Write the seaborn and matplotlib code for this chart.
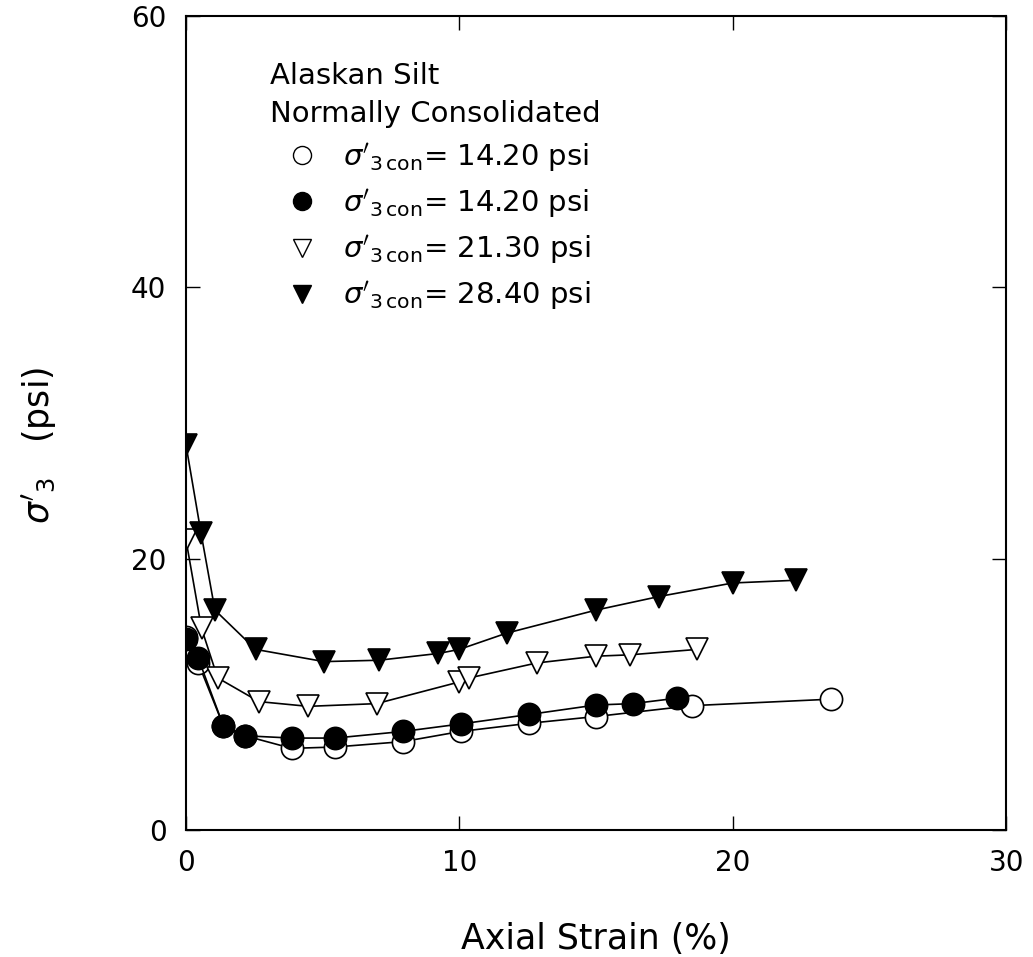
"""
Alaskan Silt (normally consolidated) — sigma3' vs axial strain.
Zapis do out.png.
"""

import matplotlib
matplotlib.use('Agg')
import matplotlib.pyplot as plt
from matplotlib.lines import Line2D
import seaborn as sns

# dane
strain_open_circ = [0.0, 0.45, 1.37, 2.16, 3.87, 5.45, 7.95, 10.05, 12.55, 15.0, 18.5, 23.6]
sig3_open_circ = [14.2, 12.3, 7.66, 6.93, 6.0, 6.1, 6.5, 7.25, 7.85, 8.35, 9.15, 9.63]

strain_fill_circ = [0.0, 0.45, 1.37, 2.16, 3.87, 5.45, 7.95, 10.05, 12.55, 15.0, 16.34, 17.95]
sig3_fill_circ = [14.1, 12.65, 7.66, 6.93, 6.76, 6.76, 7.25, 7.8, 8.5, 9.2, 9.3, 9.7]

strain_open_tri = [0.0, 0.57, 1.16, 2.67, 4.47, 6.97, 10.0, 10.37, 12.83, 15.0, 16.24, 18.7]
sig3_open_tri = [21.4, 14.85, 11.2, 9.45, 9.1, 9.3, 10.9, 11.2, 12.3, 12.8, 12.9, 13.3]

strain_fill_tri = [0.0, 0.55, 1.06, 2.55, 5.05, 7.05, 9.23, 10.0, 11.73, 15.0, 17.3, 20.0, 22.3]
sig3_fill_tri = [28.4, 21.9, 16.2, 13.3, 12.4, 12.5, 13.0, 13.3, 14.5, 16.2, 17.2, 18.2, 18.4]

legend_labels = [
    r"$\sigma'_{3\,\mathrm{con}}$= 14.20 psi",
    r"$\sigma'_{3\,\mathrm{con}}$= 14.20 psi",
    r"$\sigma'_{3\,\mathrm{con}}$= 21.30 psi",
    r"$\sigma'_{3\,\mathrm{con}}$= 28.40 psi",
]

sns.set_theme(style='ticks')
plt.rcParams['font.family'] = ['DejaVu Sans']
plt.rcParams['mathtext.fontset'] = 'dejavusans'
for key in ['text.color', 'axes.labelcolor', 'xtick.color', 'ytick.color']:
    plt.rcParams[key] = 'black'

fig = plt.figure(figsize=(10.33, 9.57), dpi=100)
ax = fig.add_axes([0.180, 0.133, 0.794, 0.850])

series = [
    (strain_open_circ, sig3_open_circ, 'o', 'white'),
    (strain_fill_circ, sig3_fill_circ, 'o', 'black'),
    (strain_open_tri, sig3_open_tri, 'v', 'white'),
    (strain_fill_tri, sig3_fill_tri, 'v', 'black'),
]

for x, y, mk, fc in series:
    sns.lineplot(x=x, y=y, ax=ax, color='black', linewidth=1.2, sort=False,
                 marker=mk, markersize=16, markerfacecolor=fc,
                 markeredgecolor='black', markeredgewidth=1.2)

ax.set_xlim(0, 30)
ax.set_ylim(0, 60)
ax.set_xticks([0, 10, 20, 30])
ax.set_yticks([0, 20, 40, 60])
ax.tick_params(direction='in', length=10, width=1.0, labelsize=20, pad=14,
               top=True, right=True)
for sp in ax.spines.values():
    sp.set_visible(True)
    sp.set_linewidth(1.5)
    sp.set_color('black')

ax.set_xlabel('Axial Strain (%)', fontsize=25, labelpad=32)
ax.set_ylabel(r"$\sigma'_3$   (psi)", fontsize=25)
ax.yaxis.set_label_coords(-0.155, 0.473)

# legenda — tylko markery
handles = [
    Line2D([], [], linestyle='none', marker='o', markersize=13,
           markerfacecolor='white', markeredgecolor='black'),
    Line2D([], [], linestyle='none', marker='o', markersize=13,
           markerfacecolor='black', markeredgecolor='black'),
    Line2D([], [], linestyle='none', marker='v', markersize=13,
           markerfacecolor='white', markeredgecolor='black'),
    Line2D([], [], linestyle='none', marker='v', markersize=13,
           markerfacecolor='black', markeredgecolor='black'),
]
leg = ax.legend(handles, legend_labels, title='Alaskan Silt\nNormally Consolidated',
                loc='upper left', bbox_to_anchor=(0.085, 0.962), frameon=False,
                fontsize=21, title_fontsize=21, alignment='left',
                handletextpad=0.3, labelspacing=0.45, handlelength=2.2,
                borderpad=0.0)
leg.get_title().set_linespacing(1.45)

plt.savefig('out.png', dpi=100)
